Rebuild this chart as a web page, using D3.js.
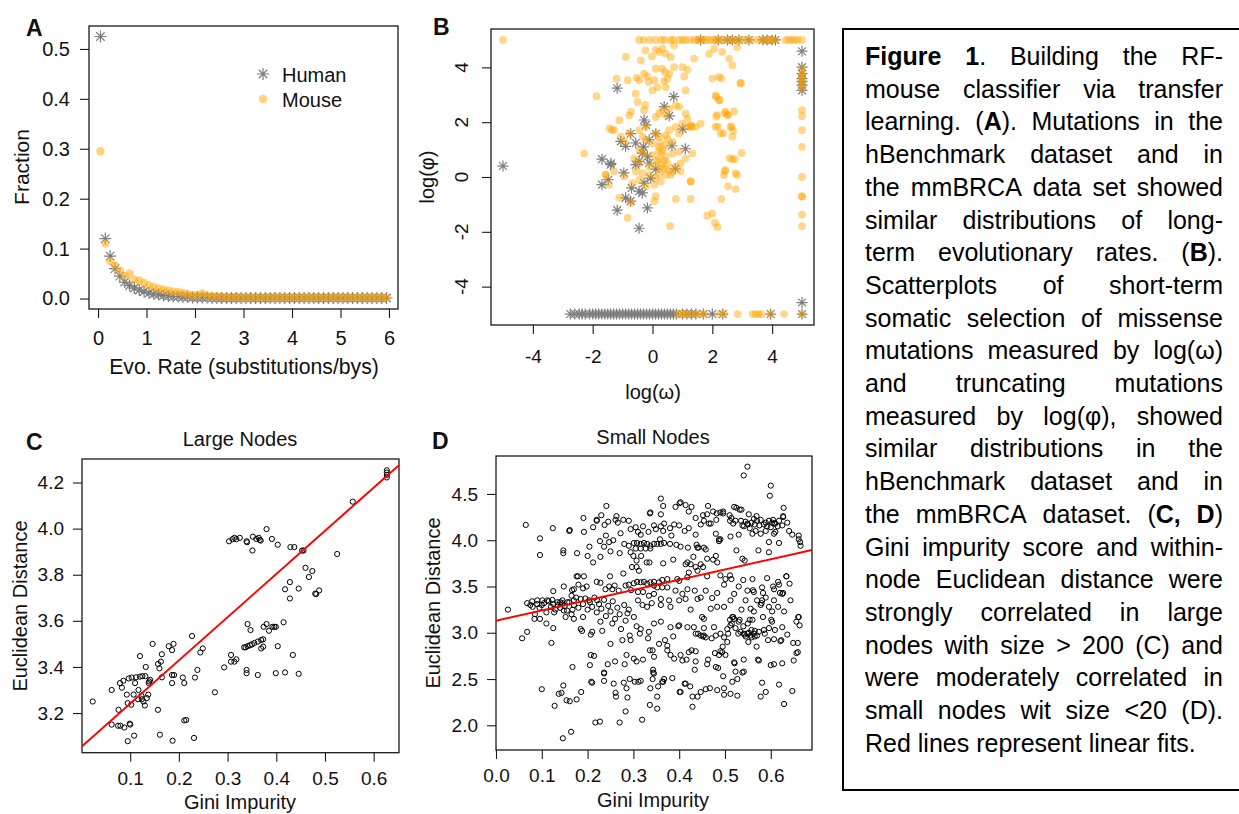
<!DOCTYPE html>
<html><head><meta charset="utf-8">
<script src="https://cdn.jsdelivr.net/npm/d3@7"></script>
<style>body{margin:0;background:#fff;overflow:hidden}</style>
</head><body><svg id="fig" width="1239" height="814" xmlns="http://www.w3.org/2000/svg"></svg>
<script>
// ---------------- DATA ----------------
// Panel A: fraction of mutations by evolutionary rate bin
const aRate = [0.05,0.15,0.25,0.35,0.45,0.55,0.65,0.75,0.85,0.95,1.05,1.15,1.25,1.35,1.45,1.55,1.65,1.75,1.85,1.95,
2.05,2.15,2.25,2.35,2.45,2.55,2.65,2.75,2.85,2.95,3.05,3.15,3.25,3.35,3.45,3.55,3.65,3.75,3.85,3.95,
4.05,4.15,4.25,4.35,4.45,4.55,4.65,4.75,4.85,4.95,5.05,5.15,5.25,5.35,5.45,5.55,5.65,5.75,5.85,5.95];
const aHuman = [0.525,0.12,0.085,0.06,0.045,0.033,0.026,0.021,0.017,0.014,0.011,0.009,0.008,0.006,0.005,0.004,0.004,0.003,0.003,0.002,
0.002,0.002,0.002,0.001,0.001,0.001,0.001,0.001,0.001,0.001,0.001,0.001,0.001,0.001,0.001,0.001,0.001,0.001,0.001,0.001,
0.001,0.001,0.001,0.001,0.001,0.001,0.001,0.001,0.001,0.001,0.001,0.001,0.001,0.001,0.001,0.001,0.001,0.001,0.001,0.001];
const aMouse = [0.295,0.11,0.075,0.066,0.056,0.045,0.05,0.038,0.036,0.031,0.026,0.023,0.02,0.018,0.016,0.014,0.013,0.011,0.009,0.007,
0.007,0.01,0.006,0.005,0.004,0.004,0.003,0.003,0.003,0.002,0.002,0.002,0.002,0.002,0.002,0.002,0.002,0.002,0.002,0.002,
0.002,0.002,0.002,0.002,0.002,0.002,0.002,0.002,0.002,0.002,0.002,0.002,0.002,0.002,0.002,0.002,0.002,0.002,0.002,0.002];
const aXTicks = [0,1,2,3,4,5,6];
const aYTicks = [0,0.1,0.2,0.3,0.4,0.5];

// Panel B: [log(omega), log(phi)]
const bHuman = [[-5,0.4],[-1.18,3.24],[0.71,2.93],[0.39,2.57],[0.56,2.23],[-0.28,2.08],[-0.22,1.9],[1.01,1.75],[0.11,1.58],[-0.73,1.58],
[-1.06,1.3],[-0.9,1.12],[-0.56,1.24],[-0.11,1.36],[0.65,1.14],[1.1,1.03],[-0.34,0.87],[-0.17,0.75],[-1.69,0.65],[-0.45,0.57],
[-0.56,0.45],[-1.4,0.45],[-0.11,0.51],[0.11,0.29],[0.76,0.3],[-0.96,0.15],[-0.06,-0.04],[-1.69,-0.28],[-1.48,-0.1],[-0.28,-0.22],
[-0.7,-0.4],[-0.45,-0.52],[-0.34,-0.58],[-0.9,-0.76],[-0.73,-0.88],[-0.17,-1.13],[-1.18,-1.21],[-0.45,-1.87],[-1.39,0.5],[-0.3,1.1],
[1.61,5],[2.2,5],[2.5,5],[2.67,5],[2.89,5],[3.22,5],[3.69,5],[3.83,5],[4.0,5],[4.11,5],
[5,4.59],[5,4.01],[5,3.77],[5,3.59],[5,3.49],[5,3.35],[5,3.16],[5,-4.58],[5,-5],
[-2.75,-5],[-2.6,-5],[-2.45,-5],[-2.35,-5],[-2.25,-5],[-2.1,-5],[-2.0,-5],[-1.9,-5],[-1.8,-5],[-1.7,-5],[-1.6,-5],[-1.5,-5],
[-1.4,-5],[-1.3,-5],[-1.2,-5],[-1.1,-5],[-1.0,-5],[-0.9,-5],[-0.8,-5],[-0.7,-5],[-0.6,-5],[-0.5,-5],[-0.4,-5],[-0.3,-5],
[-0.2,-5],[-0.1,-5],[0.0,-5],[0.1,-5],[0.2,-5],[0.3,-5],[0.4,-5],[0.5,-5],[0.6,-5],[0.7,-5],[0.8,-5],[1.0,-5],[1.15,-5],
[1.3,-5],[1.45,-5],[1.7,-5],[2.0,-5],[2.35,-5],[3.95,-5]];
const bMouse = [[-5,5],[-0.45,5],[-0.3,5],[-0.1,5],[0.1,5],[0.3,5],[0.4,5],[0.6,5],[0.7,5],[0.9,5],[1.0,5],[1.1,5],[1.25,5],[1.4,5],
[1.5,5],[1.6,5],[1.7,5],[1.8,5],[1.9,5],[2.0,5],[2.1,5],[2.2,5],[2.3,5],[2.45,5],[2.6,5],[2.7,5],[2.85,5],[3.0,5],[3.15,5],
[3.3,5],[3.5,5],[3.65,5],[3.8,5],[3.9,5],[4.0,5],[4.1,5],[4.45,5],[4.55,5],[4.65,5],[4.75,5],[4.85,5],[5.0,5],
[5,3.95],[5,3.77],[5,3.65],[5,3.53],[5,3.41],[5,3.22],[5,2.44],[5,2.22],[5,1.71],[5,1.1],[5,0],[5,-0.7],[5,-0.72],[5,-1.37],[5,-1.79],[5,-5],
[0.85,-5],[0.95,-5],[1.05,-5],[1.15,-5],[1.3,-5],[1.45,-5],[1.6,-5],[1.75,-5],[2.25,-5],[2.4,-5],[2.85,-5],[3.35,-5],[3.45,-5],
[3.55,-5],[3.65,-5],[3.95,-5],[4.4,-5],
[-0.89,4.38],[-0.24,4.62],[-0.39,4.25],[-0.02,4.4],[0.11,4.64],[0.22,4.56],[0.33,4.68],[0.44,4.5],[0.61,4.38],[0.72,4.8],
[0.11,3.95],[0.33,3.95],[0.42,3.83],[0.56,3.77],[0.5,3.59],[0.72,4.01],[-0.28,3.77],[-0.17,3.67],[-0.44,3.53],[-0.13,3.47],
[0.06,3.53],[0.17,3.28],[0.0,3.16],[0.39,3.5],[0.44,3.28],[-0.83,3.53],[-0.53,3.62],[-1.2,3.59],[-1.87,2.95],[-0.56,3.04],
[-0.5,2.74],[1.11,3.16],[1.0,4.01],[1.17,3.92],[1.39,4.32],[1.06,3.67],[1.89,4.5],[2.06,4.68],[2.33,4.56],[2.56,4.32],
[2.67,4.07],[2.83,4.74],[2.22,3.65],[2.0,3.59],[2.94,3.43],[2.11,2.98],[2.22,2.8],[2.44,2.38],[2.5,2.26],[2.17,2.26],
[2.11,1.83],[2.28,1.59],[2.61,1.83],[2.67,1.47],[2.98,0.88],[2.67,0.64],[2.44,0.25],[2.78,0.13],[2.39,0.07],[1.61,1.95],
[1.28,1.89],[1.44,1.83],[0.89,2.56],[1.11,2.32],[1.17,2.13],[1.31,1.83],[-1.44,1.77],[-1.28,1.71],[-1.11,2.07],[-0.78,2.25],
[-0.72,2.38],[-0.28,2.44],[-0.24,2.62],[-2.28,0.86],[0.11,2.19],[0.22,2.32],[0.33,2.44],[0.44,2.26],[0.56,2.5],[0.78,2.62],
[-1.06,1.47],[-0.94,1.28],[-0.78,1.59],[-0.44,1.71],[-0.22,1.83],[0.11,1.59],[0.22,1.47],[0.44,1.53],[0.56,1.71],[0.78,1.83],
[0.89,1.59],[1.0,1.95],[1.17,1.83],[1.28,1.85],[0.67,1.28],[0.44,1.16],[0.22,1.1],[0.0,1.22],[-0.22,1.35],[-0.33,1.47],
[-0.44,0.98],[-0.28,0.86],[0.0,0.8],[0.22,0.68],[0.44,0.74],[0.67,0.86],[0.89,0.92],[1.11,0.68],[1.33,0.86],[-0.61,0.68],
[-0.44,0.5],[-0.11,0.38],[0.11,0.44],[0.33,0.32],[0.56,0.25],[0.78,0.38],[0.94,0.5],[0.22,0.13],[0.44,0.07],[0.67,0.19],
[0.3,0.9],[0.35,1.0],[0.4,0.6],[0.3,0.45],[0.2,0.95],[0.5,1.4],[0.4,0.3],[0.15,0.6],[0.5,0.5],[0.25,1.25],
[-1.56,0.08],[-1.28,0.21],[-0.94,0.02],[-0.56,0.21],[-0.33,0.15],[-0.11,0.08],[0.11,-0.04],[0.28,-0.16],[0.06,-0.28],[-0.44,-0.1],
[-0.67,-0.22],[-0.22,-0.34],[0.61,0.08],[0.94,0.21],[1.28,-0.16],[-1.11,-0.76],[-0.72,-0.95],[-0.83,-1.49],[0.11,-0.7],[0.06,-0.88],
[0.78,-0.8],[1.28,-0.8],[2.3,-0.8],[1.83,-1.41],[2.0,-1.33],[2.09,-1.67],[2.17,-1.82],[0.59,-1.79],[2.52,-0.34],[2.78,-0.44],
[2.83,0.08],[2.41,0.21],[1.27,-0.16],[2.58,0.69],[2.75,0.65],[2.96,3.42],[2.3,3.6],[2.13,2.93],[2.25,2.81],[2.42,2.33],
[2.53,2.27],[2.13,2.21],[2.19,1.84],[2.36,1.6],[2.64,1.84],[2.7,1.69],[2.73,2.39],[-1.46,-0.28],[-1.57,0.08],[-1.35,1.72]];
const bTicks = [-4,-2,0,2,4];

// Panel C: large nodes [Gini impurity, Euclidean distance]
const cNodes = [[0.023,3.25],[0.062,3.30],[0.062,3.15],[0.076,3.214],[0.079,3.33],[0.086,3.34],[0.083,3.31],[0.075,3.145],[0.08,3.145],[0.088,3.137],
[0.093,3.28],[0.095,3.078],[0.095,3.243],[0.097,3.35],[0.099,3.154],[0.10,3.15],[0.102,3.236],[0.103,3.354],[0.107,3.28],[0.108,3.102],
[0.11,3.33],[0.112,3.355],[0.116,3.26],[0.117,3.30],[0.12,3.447],[0.12,3.358],[0.123,3.275],[0.124,3.26],[0.125,3.36],[0.127,3.25],
[0.13,3.233],[0.131,3.36],[0.132,3.40],[0.134,3.265],[0.137,3.28],[0.138,3.33],[0.139,3.337],[0.141,3.344],[0.146,3.50],[0.157,3.413],
[0.157,3.214],[0.16,3.394],[0.161,3.106],[0.163,3.423],[0.165,3.455],[0.165,3.355],[0.179,3.49],[0.186,3.473],[0.186,3.365],[0.186,3.33],
[0.187,3.08],[0.189,3.50],[0.19,3.365],[0.208,3.354],[0.211,3.33],[0.211,3.168],[0.215,3.17],[0.227,3.534],[0.231,3.092],[0.233,3.354],
[0.238,3.387],[0.244,3.463],[0.249,3.48],[0.274,3.29],[0.293,3.398],[0.307,3.452],[0.307,3.423],[0.314,3.423],[0.318,3.433],
[0.303,3.945],[0.31,3.954],[0.314,3.96],[0.318,3.954],[0.325,3.96],[0.339,3.945],[0.34,3.941],[0.351,3.905],[0.352,3.965],[0.359,3.955],
[0.364,3.96],[0.366,3.951],[0.368,3.948],[0.38,3.998],[0.391,3.955],[0.403,3.93],[0.429,3.92],[0.437,3.92],[0.453,3.905],[0.456,3.905],
[0.46,3.83],[0.474,3.816],[0.467,3.79],[0.428,3.768],[0.418,3.737],[0.446,3.74],[0.428,3.697],[0.48,3.718],[0.482,3.716],[0.488,3.732],
[0.525,3.89],[0.557,4.117],[0.627,4.253],[0.627,4.243],[0.627,4.233],[0.627,4.222],
[0.341,3.586],[0.347,3.56],[0.374,3.574],[0.38,3.586],[0.385,3.557],[0.392,3.574],[0.396,3.574],[0.399,3.574],[0.415,3.594],
[0.334,3.485],[0.337,3.485],[0.341,3.49],[0.346,3.494],[0.35,3.498],[0.355,3.504],[0.362,3.51],[0.369,3.517],[0.373,3.52],[0.369,3.48],[0.373,3.488],
[0.339,3.387],[0.339,3.373],[0.362,3.365],[0.399,3.373],[0.418,3.376],[0.434,3.452],[0.446,3.37],[0.403,3.49]];
const cFit = [3.054, 1.873]; // intercept, slope
const cXTicks = [0.1,0.2,0.3,0.4,0.5,0.6];
const cYTicks = [3.2,3.4,3.6,3.8,4.0,4.2];

// Panel D: small nodes [Gini impurity, Euclidean distance]
const dNodes = [[0.065,4.165],[0.096,4.02],[0.096,3.84],[0.124,4.13],[0.147,3.89],[0.147,3.86],[0.16,4.10],[0.177,3.86],[0.192,4.09],[0.204,3.93],
[0.2,3.83],[0.212,4.14],[0.22,4.21],[0.23,4.27],[0.241,4.37],[0.237,4.165],[0.227,3.99],[0.236,3.93],[0.228,3.82],[0.212,3.76],
[0.24,4.05],[0.247,3.98],[0.25,3.88],[0.256,4.0],[0.261,4.22],[0.266,4.19],[0.272,4.075],[0.27,3.86],[0.28,3.96],[0.29,4.21],
[0.29,3.94],[0.294,3.87],[0.30,3.83],[0.294,4.12],[0.305,4.14],[0.31,4.09],[0.316,4.06],
[0.301,3.97],[0.308,3.97],[0.316,3.96],[0.323,3.97],[0.33,3.96],[0.337,3.94],[0.345,3.96],[0.305,3.91],[0.316,3.91],[0.327,3.91],
[0.337,3.91],[0.307,3.78],[0.317,3.83],[0.329,3.76],[0.335,3.76],[0.297,3.71],[0.312,3.67],
[0.333,4.09],[0.337,4.30],[0.345,4.16],[0.349,4.12],
[0.179,3.61],[0.192,3.61],[0.18,3.52],[0.19,3.48],[0.148,3.50],[0.166,3.46],[0.17,3.47],[0.125,3.45],
[0.228,3.54],[0.239,3.47],[0.247,3.50],[0.254,3.47],[0.259,3.51],[0.268,3.455],[0.283,3.51],[0.29,3.52],[0.301,3.535],[0.308,3.55],
[0.316,3.545],[0.323,3.55],[0.33,3.53],[0.337,3.545],[0.345,3.51],
[0.295,3.46],[0.31,3.44],[0.321,3.44],[0.334,3.40],[0.345,3.42],
[0.068,3.32],[0.079,3.34],[0.09,3.35],[0.101,3.35],[0.112,3.35],[0.123,3.355],[0.134,3.33],[0.145,3.35],[0.156,3.33],[0.17,3.35],
[0.185,3.365],[0.203,3.35],[0.221,3.35],[0.236,3.355],
[0.549,4.795],[0.541,4.70],[0.6,4.59],[0.598,4.48],[0.36,4.45],[0.403,4.41],[0.414,4.38],[0.392,4.36],[0.421,4.31],[0.436,4.24],
[0.463,4.37],[0.461,4.28],[0.474,4.31],[0.482,4.29],[0.49,4.30],[0.496,4.29],[0.52,4.36],[0.525,4.35],[0.532,4.33],
[0.51,4.27],[0.514,4.24],[0.511,4.21],[0.518,4.18],[0.523,4.21],[0.535,4.21],[0.538,4.16],[0.541,4.15],[0.549,4.18],[0.554,4.13],
[0.552,4.28],[0.563,4.23],[0.57,4.21],[0.578,4.22],[0.589,4.19],[0.596,4.21],[0.603,4.19],[0.61,4.18],
[0.628,4.35],[0.627,4.25],[0.607,4.18],[0.618,4.21],[0.636,4.19],
[0.545,4.20],[0.55,4.17],[0.558,4.19],[0.565,4.17],[0.575,4.16],[0.585,4.17],[0.592,4.15],[0.6,4.14],[0.615,4.15],[0.625,4.16],
[0.454,4.21],[0.465,4.18],[0.469,4.18],[0.447,4.17],[0.436,4.06],[0.421,4.13],[0.412,4.10],[0.4,4.16],[0.389,4.17],[0.38,4.13],
[0.36,4.28],[0.36,4.15],[0.367,4.18],[0.365,4.10],[0.383,4.05],[0.358,4.01],
[0.352,3.96],[0.36,3.96],[0.367,3.97],[0.38,3.96],
[0.394,3.95],[0.403,3.93],[0.419,3.92],[0.44,3.92],[0.458,3.90],[0.48,4.07],[0.487,4.01],[0.512,4.04],[0.53,4.06],
[0.56,4.07],[0.567,4.1],[0.578,4.07],[0.589,4.10],[0.607,4.07],[0.61,4.09],[0.64,4.10],[0.647,4.06],[0.661,4.05],[0.661,4.01],
[0.664,3.98],[0.665,3.94],
[0.596,3.98],[0.618,3.97],[0.525,3.89],[0.573,3.89],[0.596,3.87],[0.538,3.80],[0.543,3.78],[0.49,4.01],[0.487,3.99],[0.438,3.95],
[0.442,3.92],[0.454,3.92],
[0.418,3.76],[0.425,3.74],[0.414,3.74],[0.447,3.74],[0.461,3.80],[0.48,3.83],[0.483,3.76],[0.436,3.71],
[0.345,3.55],[0.356,3.545],[0.363,3.57],[0.374,3.58],[0.396,3.58],[0.4,3.56],
[0.418,3.6],[0.461,3.61],[0.49,3.62],[0.501,3.58],[0.498,3.52],[0.514,3.58],[0.53,3.50],[0.56,3.58],[0.592,3.59],[0.616,3.55],
[0.618,3.52],[0.634,3.61],[0.625,3.42],[0.44,3.67],[0.421,3.65],
[0.352,3.49],[0.363,3.49],[0.374,3.49],[0.392,3.455],[0.407,3.42],[0.418,3.47],[0.434,3.455],[0.458,3.455],[0.483,3.43],[0.52,3.42],
[0.549,3.455],[0.563,3.44],[0.581,3.49],[0.589,3.38],[0.607,3.47],[0.643,3.35],
[0.36,3.365],[0.378,3.35],[0.4,3.35],[0.414,3.365],[0.44,3.365],[0.447,3.38],[0.472,3.375],[0.512,3.35],[0.545,3.35],[0.57,3.35],
[0.581,3.35],[0.607,3.35],
[0.026,3.25],[0.057,2.94],[0.068,3.01],[0.084,3.15],[0.096,3.15],[0.11,3.1],[0.125,3.05],[0.121,2.89],[0.1,2.39],[0.128,2.21],
[0.137,2.34],[0.147,2.43],[0.167,2.63],[0.161,2.26],[0.176,2.28],[0.186,2.36],[0.146,1.86],[0.164,1.93],[0.217,2.03],[0.227,2.04],
[0.214,2.75],[0.205,2.65],[0.208,2.47],[0.236,2.57],[0.236,2.48],[0.244,2.66],[0.26,2.69],[0.261,2.35],[0.27,2.03],[0.279,2.46],
[0.283,2.15],[0.285,2.40],[0.287,2.30],[0.281,2.66],[0.292,2.50],[0.303,2.47],[0.316,2.48],[0.307,2.69],[0.319,2.06],[0.334,3.01],
[0.342,2.81],[0.345,2.74],[0.343,2.57],[0.337,2.40],[0.336,2.22],[0.342,2.50],
[0.127,3.22],[0.148,3.24],[0.167,3.25],[0.152,3.17],[0.17,3.15],[0.185,3.04],[0.188,3.02],[0.207,2.98],[0.21,3.01],[0.228,3.12],
[0.232,3.02],[0.25,2.88],[0.254,3.10],[0.276,2.92],[0.273,3.04],[0.283,3.13],[0.287,3.21],[0.294,2.92],[0.292,2.97],[0.301,3.17],
[0.307,3.07],[0.316,3.04],[0.314,2.99],
[0.075,3.30],[0.08,3.28],[0.085,3.20],[0.09,3.31],[0.095,3.27],[0.1,3.30],[0.105,3.32],[0.11,3.22],[0.115,3.34],[0.12,3.28],
[0.125,3.31],[0.13,3.25],[0.135,3.30],[0.14,3.33],[0.14,3.27],[0.145,3.32],[0.15,3.29],[0.155,3.24],[0.16,3.33],[0.165,3.20],
[0.165,3.40],[0.17,3.30],[0.175,3.38],[0.18,3.27],[0.19,3.17],[0.19,3.31],[0.195,3.37],[0.2,3.25],[0.205,3.33],[0.21,3.28],
[0.215,3.38],[0.22,3.22],[0.225,3.31],[0.23,3.26],[0.24,3.18],[0.245,3.29],[0.25,3.23],[0.255,3.34],[0.26,3.15],[0.265,3.27],
[0.27,3.20],[0.28,3.30],[0.29,3.25],[0.31,3.35],[0.32,3.30],[0.33,3.28],[0.34,3.32],
[0.36,3.30],[0.381,3.28],[0.425,3.25],[0.45,3.17],[0.454,3.15],[0.469,3.26],[0.483,3.28],[0.498,3.28],[0.516,3.17],[0.52,3.15],
[0.536,3.25],[0.556,3.26],[0.563,3.23],[0.578,3.30],[0.596,3.28],[0.603,3.23],[0.629,3.23],[0.661,3.17],[0.656,3.12],
[0.345,3.10],[0.36,3.12],[0.381,3.06],[0.4,3.08],[0.418,3.06],[0.432,3.06],[0.436,2.99],[0.447,2.97],[0.454,2.97],[0.458,2.95],
[0.454,3.05],[0.476,3.06],[0.48,2.97],[0.49,2.99],[0.498,2.95],[0.505,3.04],[0.512,3.08],[0.523,3.05],[0.534,3.01],[0.541,2.99],
[0.549,2.99],[0.556,2.97],[0.563,2.99],[0.574,3.01],[0.585,3.03],[0.596,3.05],[0.603,3.12],[0.625,3.06],[0.636,2.98],[0.607,2.93],
[0.621,2.91],[0.659,2.89],
[0.545,2.96],[0.552,3.00],[0.558,2.95],[0.565,3.02],[0.57,2.97],[0.55,3.10],[0.56,3.14],[0.53,3.12],[0.515,3.10],[0.505,2.90],
[0.495,2.85],[0.49,2.80],
[0.356,2.88],[0.374,2.86],[0.374,2.81],[0.381,2.76],[0.389,2.72],[0.403,2.76],[0.407,2.70],[0.421,2.79],[0.436,2.80],[0.436,2.69],
[0.461,2.66],[0.48,2.63],[0.487,2.76],[0.494,2.79],[0.501,2.76],[0.52,2.68],[0.523,2.58],[0.541,2.58],[0.538,2.57],[0.527,2.50],
[0.516,2.47],[0.541,2.71],[0.574,2.70],[0.6,2.65],[0.607,2.66],[0.625,2.67],[0.65,2.70],[0.659,2.79],
[0.345,2.56],[0.363,2.47],[0.367,2.50],[0.385,2.51],[0.403,2.36],[0.414,2.45],[0.424,2.42],[0.429,2.31],[0.429,2.20],[0.44,2.31],
[0.447,2.36],[0.458,2.39],[0.467,2.40],[0.483,2.38],[0.498,2.40],[0.498,2.33],[0.512,2.34],[0.527,2.32],[0.581,2.46],[0.589,2.36],
[0.578,2.31],[0.618,2.44],[0.629,2.23],[0.647,2.37],[0.352,2.18],[0.352,2.31],
[0.143,2.35],[0.154,2.27],[0.207,2.76],[0.21,2.46],[0.236,2.56],[0.257,2.45],[0.262,2.31],[0.285,2.76],[0.301,2.72],[0.311,2.47],
[0.321,2.71],[0.332,2.94],[0.336,2.81],[0.343,2.60],[0.354,2.42],[0.365,2.47],[0.369,2.92],[0.387,2.96],[0.398,3.07],[0.401,2.36],
[0.412,2.45],[0.416,2.71],[0.427,2.81],[0.434,2.60],[0.441,2.99],[0.452,2.96],[0.463,2.71],[0.471,2.94],[0.478,2.78],[0.485,2.62],
[0.496,2.53],[0.507,2.99],[0.511,3.14],[0.518,3.17],[0.521,2.67],[0.529,2.99],[0.532,3.14],[0.54,3.07],[0.543,2.98],[0.551,2.90],
[0.554,3.14],[0.558,3.03],[0.565,2.96],[0.569,2.85],[0.572,2.71],[0.58,3.32],[0.583,3.17],[0.587,2.99],[0.594,2.92],[0.601,3.14],
[0.609,3.03],[0.616,3.28],[0.623,2.92],[0.627,3.43],[0.634,3.61],[0.641,3.53],[0.649,2.89],[0.656,2.78],[0.66,3.17],[0.663,3.08],
[0.161,4.11],[0.191,4.24],[0.22,4.22],[0.245,4.20],[0.263,4.26],[0.278,4.22],[0.321,4.15],[0.336,4.29],[0.365,4.37],[0.401,4.40],
[0.427,4.36],[0.452,4.27],[0.481,4.22],[0.496,4.31],[0.536,4.33],[0.569,4.26],[0.605,4.22],[0.627,4.26],
[0.176,3.61],[0.198,3.50],[0.22,3.55],[0.249,3.61],[0.278,3.64],[0.307,3.71],[0.365,3.75],[0.387,3.79],[0.431,3.82],[0.452,3.71],
[0.474,3.79],[0.511,3.62],[0.54,3.57],[0.561,3.46],[0.583,3.43],[0.605,3.50],[0.62,3.43]];
const dFit = [3.13, 1.107]; // intercept, slope
const dXTicks = [0.0,0.1,0.2,0.3,0.4,0.5,0.6];
const dYTicks = [2.0,2.5,3.0,3.5,4.0,4.5];

// Caption (** marks bold)
const captionLines = [
"**Figure 1**. Building the RF-",
"mouse classifier via transfer",
"learning. (**A**). Mutations in the",
"hBenchmark dataset and in",
"the mmBRCA data set showed",
"similar distributions of long-",
"term evolutionary rates. (**B**).",
"Scatterplots of short-term",
"somatic selection of missense",
"mutations measured by log(ω)",
"and truncating mutations",
"measured by log(φ), showed",
"similar distributions in the",
"hBenchmark dataset and in",
"the mmBRCA dataset. (**C, D**)",
"Gini impurity score and within-",
"node Euclidean distance were",
"strongly correlated in large",
"nodes with size > 200 (C) and",
"were moderately correlated in",
"small nodes wit size <20 (D).",
"Red lines represent linear fits."];

// ---------------- DRAWING ----------------
const FONT = "'Liberation Sans', Arial, Helvetica, sans-serif";
const svg = d3.select("#fig");
svg.append("rect").attr("width",1239).attr("height",814).attr("fill","#fff");
const GRAY = "#7f7f7f", ORANGE = "#FFA500";

function asterisk(s){ const d = s/Math.SQRT2;
  return `M${-s},0H${s}M0,${-s}V${s}M${-d},${-d}L${d},${d}M${-d},${d}L${d},${-d}`; }

function frame(x, y){
  const [x0,x1] = x.range(), [y1,y0] = y.range();
  svg.append("rect").attr("x",x0).attr("y",y0).attr("width",x1-x0).attr("height",y1-y0)
    .attr("fill","none").attr("stroke","#1a1a1a").attr("stroke-width",1.3);
}
function styleAxis(g, fs){
  g.select(".domain").remove();
  g.selectAll("line").attr("stroke","#1a1a1a").attr("stroke-width",1.1);
  g.selectAll("text").attr("font-size",fs).attr("font-family",FONT).attr("fill","#111");
}
function bottomAxis(x, y, ticks, fmt, pad, fs){
  const g = svg.append("g").attr("transform",`translate(0,${y.range()[0]})`)
    .call(d3.axisBottom(x).tickValues(ticks).tickFormat(fmt).tickSize(9).tickPadding(pad));
  styleAxis(g, fs||19); return g;
}
function leftAxis(x, y, ticks, fmt, pad, fs){
  const g = svg.append("g").attr("transform",`translate(${x.range()[0]},0)`)
    .call(d3.axisLeft(y).tickValues(ticks).tickFormat(fmt).tickSize(9).tickPadding(pad));
  styleAxis(g, fs||19); return g;
}
function label(txt, x, y, opts={}){
  const t = svg.append("text").attr("x",x).attr("y",y).attr("font-family",FONT)
    .attr("font-size",opts.fs||20).attr("fill","#111")
    .attr("text-anchor",opts.anchor||"middle").attr("dy",opts.dy==null?"0.35em":opts.dy)
    .attr("font-weight",opts.bold?"bold":"normal").text(txt);
  if (opts.rot) t.attr("transform",`rotate(-90,${x},${y})`);
  return t;
}
const f1 = d3.format(".1f");

// ---- Panel A ----
{
  const x = d3.scaleLinear().domain([-0.186,6.186]).range([89,398]);
  const y = d3.scaleLinear().domain([-0.021,0.546]).range([309,26]);
  frame(x,y);
  bottomAxis(x,y,aXTicks,d3.format("d"),13,20);
  leftAxis(x,y,aYTicks,f1,10,20);
  svg.append("g").selectAll("path").data(aRate).join("path")
    .attr("d",asterisk(6)).attr("transform",(d,i)=>`translate(${x(d)},${y(aHuman[i])})`)
    .attr("stroke",GRAY).attr("stroke-width",1.2).attr("fill","none");
  svg.append("g").selectAll("circle").data(aRate).join("circle")
    .attr("cx",d=>x(d)).attr("cy",(d,i)=>y(aMouse[i])).attr("r",4.2)
    .attr("fill",ORANGE).attr("fill-opacity",0.5);
  // legend
  svg.append("path").attr("d",asterisk(6)).attr("transform","translate(263,74)")
    .attr("stroke",GRAY).attr("stroke-width",1.2).attr("fill","none");
  svg.append("circle").attr("cx",263).attr("cy",99).attr("r",4.2).attr("fill",ORANGE).attr("fill-opacity",0.5);
  label("Human",282,75,{anchor:"start"});
  label("Mouse",282,100,{anchor:"start"});
  label("Fraction",22,167,{rot:true,fs:21});
  label("Evo. Rate (substitutions/bys)",244,367,{fs:21.2});
  label("A",26,36,{anchor:"start",bold:true,fs:23,dy:0});
}

// ---- Panel B ----
{
  const x = d3.scaleLinear().domain([-5.4,5.4]).range([491,814]);
  const y = d3.scaleLinear().domain([-5.4,5.4]).range([325,29]);
  frame(x,y);
  bottomAxis(x,y,bTicks,d=>String(d),16);
  leftAxis(x,y,bTicks,()=>"",0);
  bTicks.forEach(t=>label(String(t),461,y(t),{rot:true,fs:19}));
  svg.append("g").selectAll("path").data(bHuman).join("path")
    .attr("d",asterisk(5.5)).attr("transform",d=>`translate(${x(d[0])},${y(d[1])})`)
    .attr("stroke",GRAY).attr("stroke-width",1.2).attr("fill","none");
  svg.append("g").selectAll("circle").data(bMouse).join("circle")
    .attr("cx",d=>x(d[0])).attr("cy",d=>y(d[1])).attr("r",3.9)
    .attr("fill",ORANGE).attr("fill-opacity",0.45);
  label("log(φ)",427,177,{rot:true});
  label("log(ω)",653,392);
  label("B",433,35,{anchor:"start",bold:true,fs:23,dy:0});
}

// ---- scatter with fit ----
function fitPanel(data, fit, x, y, xt, yt, xpad, ypad, id){
  frame(x,y);
  bottomAxis(x,y,xt,f1,xpad);
  leftAxis(x,y,yt,f1,ypad);
  const [x0,x1] = x.range(), [y1,y0] = y.range();
  svg.append("clipPath").attr("id",id).append("rect").attr("x",x0).attr("y",y0).attr("width",x1-x0).attr("height",y1-y0);
  svg.append("g").selectAll("circle").data(data).join("circle")
    .attr("cx",d=>x(d[0])).attr("cy",d=>y(d[1])).attr("r",2.6)
    .attr("fill","none").attr("stroke","#000").attr("stroke-width",1);
  const xd = x.domain();
  svg.append("line").attr("clip-path",`url(#${id})`)
    .attr("x1",x(xd[0])).attr("y1",y(fit[0]+fit[1]*xd[0]))
    .attr("x2",x(xd[1])).attr("y2",y(fit[0]+fit[1]*xd[1]))
    .attr("stroke","#ff0000").attr("stroke-width",2);
}
{
  const x = d3.scaleLinear().domain([0.001,0.652]).range([82,399]);
  const y = d3.scaleLinear().domain([3.028,4.302]).range([752.7,459]);
  fitPanel(cNodes, cFit, x, y, cXTicks, cYTicks, 9.5, 9, "clipC");
  label("Large Nodes",240,439);
  label("Euclidean Distance",20,606,{rot:true});
  label("Gini Impurity",240,802);
  label("C",26,450,{anchor:"start",bold:true,fs:23,dy:0});
}
{
  const x = d3.scaleLinear().domain([0.0,0.69]).range([496,812]);
  const y = d3.scaleLinear().domain([1.733,4.91]).range([750,456]);
  fitPanel(dNodes, dFit, x, y, dXTicks, dYTicks, 10, 9, "clipD");
  label("Small Nodes",653,437);
  label("Euclidean Distance",433,603,{rot:true});
  label("Gini Impurity",653,800);
  label("D",432,449,{anchor:"start",bold:true,fs:23,dy:0});
}

// ---- Caption box ----
svg.append("rect").attr("x",843).attr("y",29).attr("width",420).attr("height",761)
  .attr("fill","none").attr("stroke","#000").attr("stroke-width",2);
{
  const FS = 25, L = 865, R = 1223;
  const cap = svg.append("g");
  captionLines.forEach((line,i)=>{
    const yb = 65 + i*32.7;
    const runs = [];
    line.split("**").forEach((part,k)=>{ if(part) runs.push({t:part,b:k%2===1}); });
    const words = []; let cur = [];
    runs.forEach(r=>{
      r.t.split(" ").forEach((p,j)=>{
        if (j>0){ if(cur.length) words.push(cur); cur=[]; }
        if (p) cur.push({t:p,b:r.b});
      });
    });
    if (cur.length) words.push(cur);
    const els = words.map(w=>{
      const t = cap.append("text").attr("y",yb).attr("font-size",FS).attr("font-family",FONT).attr("fill","#000");
      w.forEach(p=>t.append("tspan").attr("font-weight",p.b?"bold":"normal").text(p.t));
      return t;
    });
    const widths = els.map(e=>e.node().getComputedTextLength());
    const last = i===captionLines.length-1;
    const gap = last ? FS*0.278 : (R-L-d3.sum(widths))/(words.length-1);
    let xx = L;
    els.forEach((e,k)=>{ e.attr("x",xx); xx += widths[k]+gap; });
  });
}
</script>
</body></html>
